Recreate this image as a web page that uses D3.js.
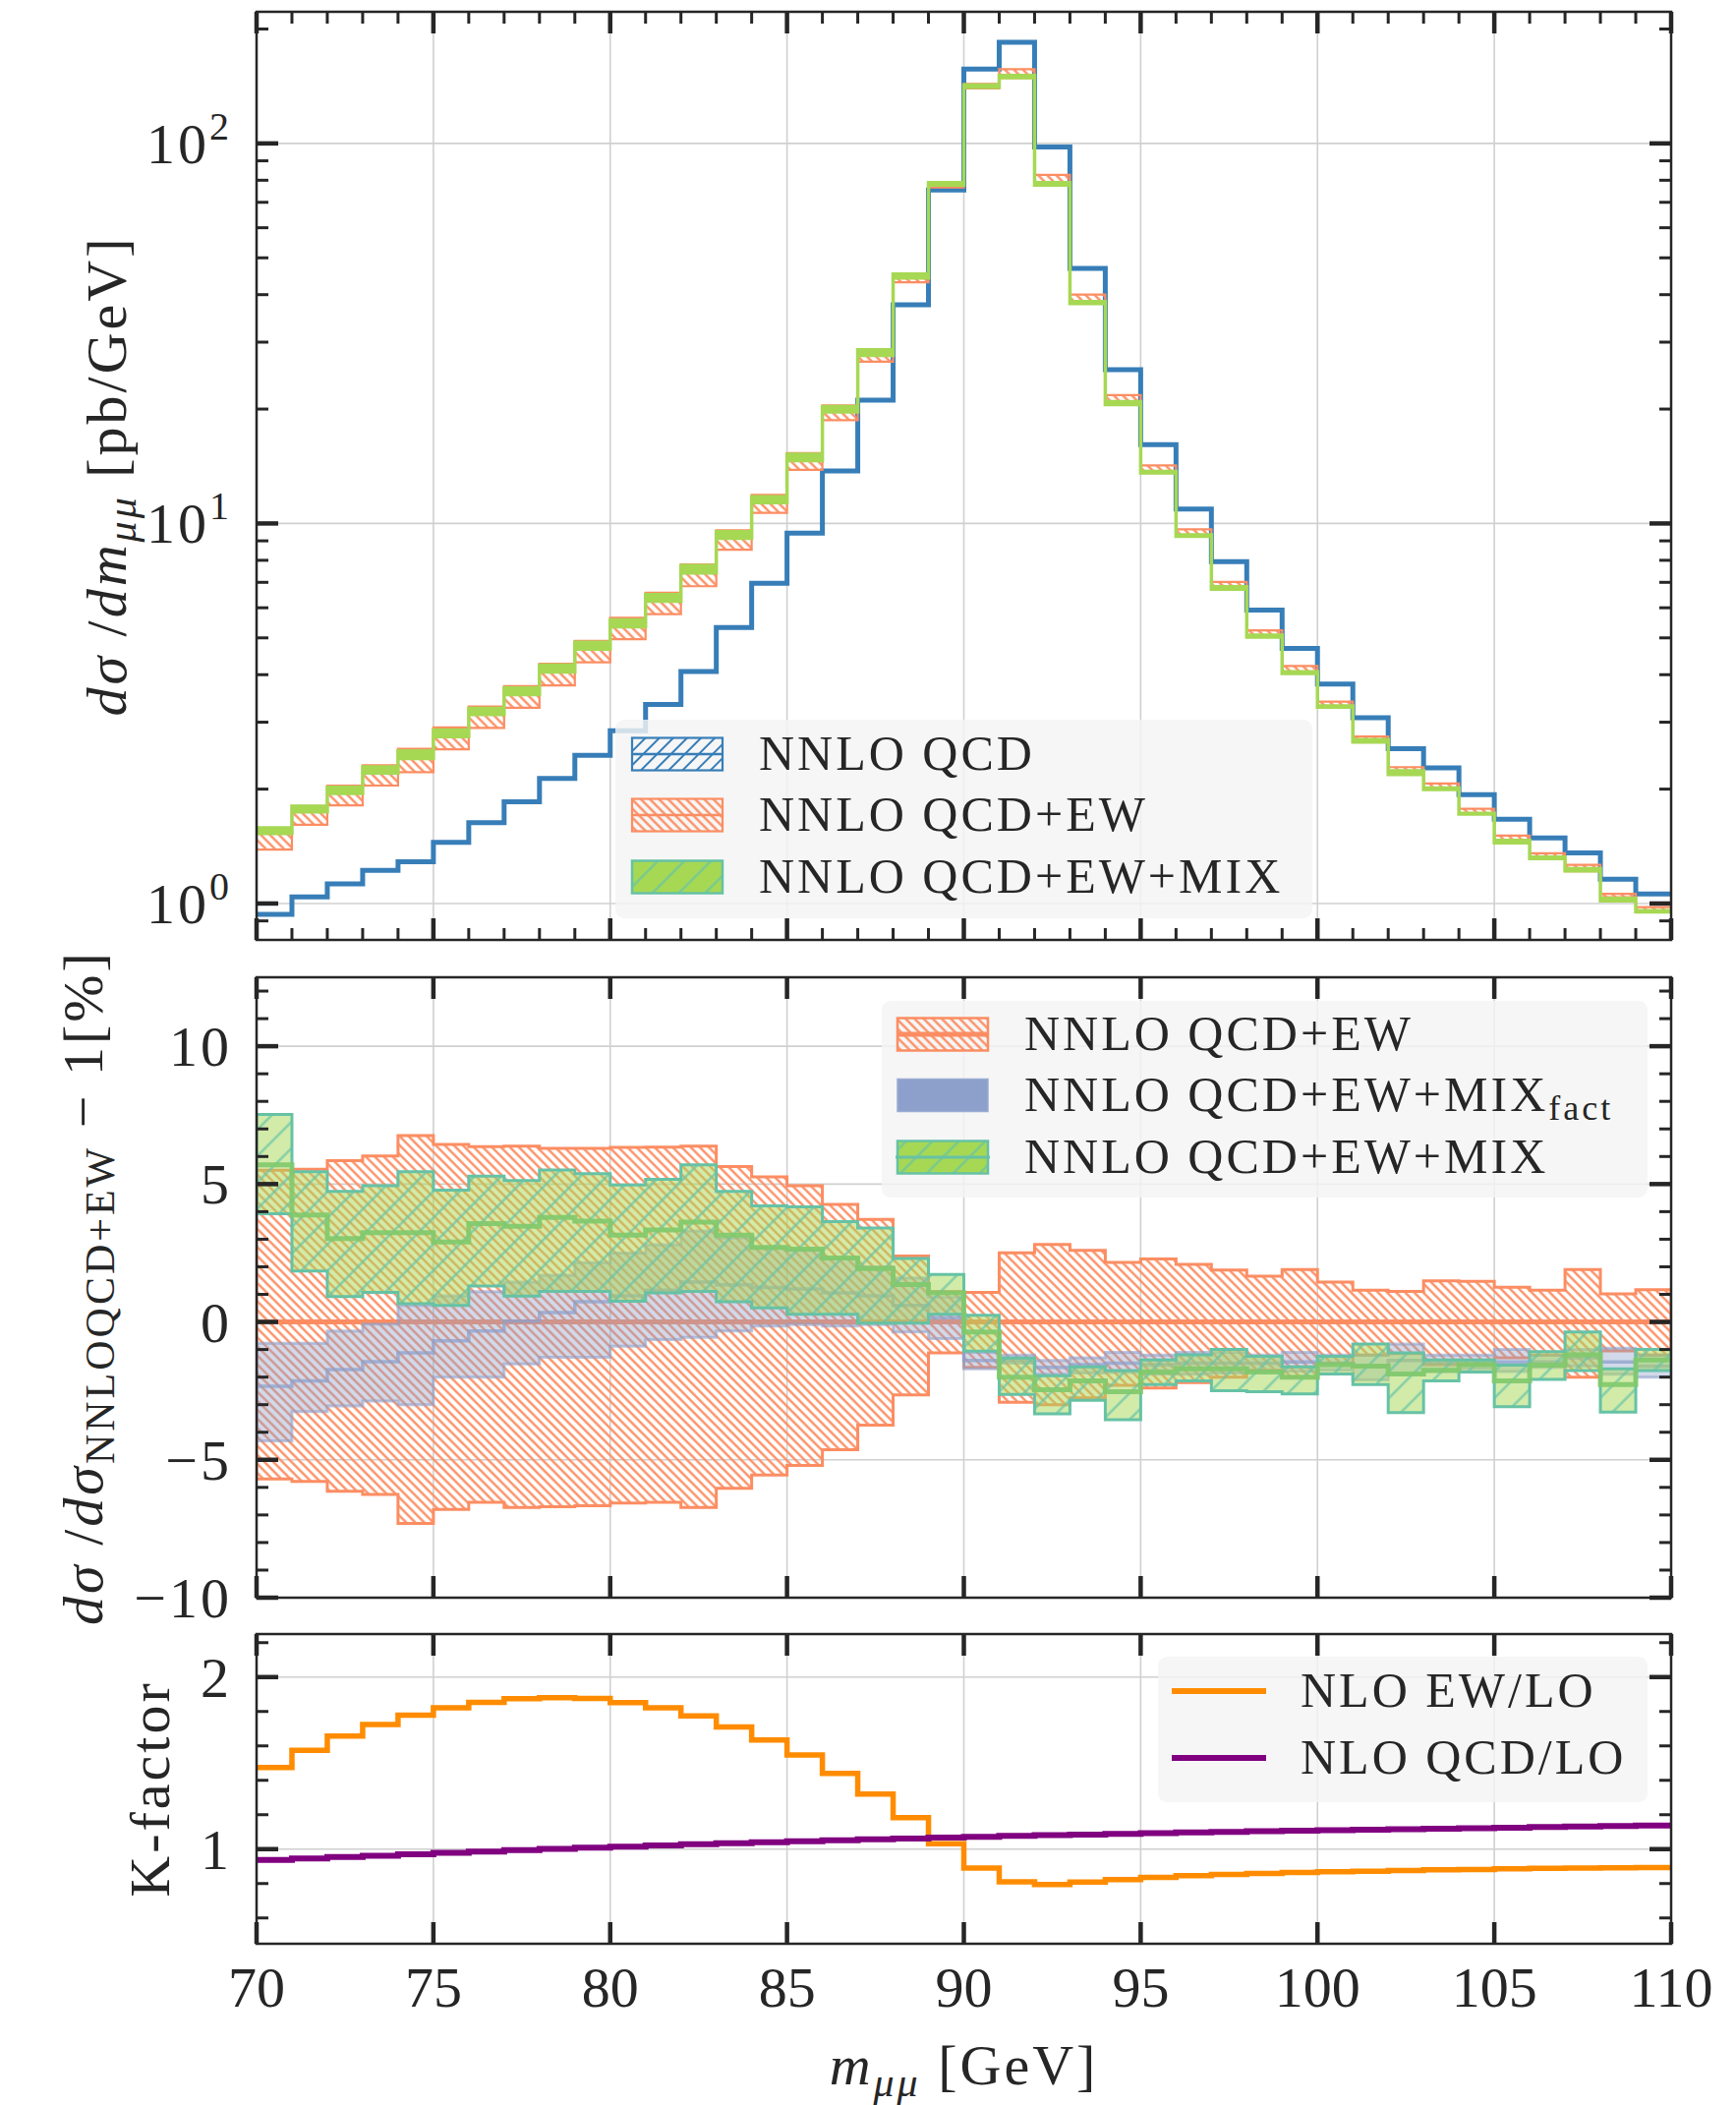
<!DOCTYPE html>
<html>
<head>
<meta charset="utf-8">
<script src="https://cdn.jsdelivr.net/npm/d3@7"></script>
<style>
  body { margin: 0; background: #fff; }
  svg text { font-family: "Liberation Serif", "DejaVu Serif", serif; fill: #262626; letter-spacing: 3px; }
</style>
</head>
<body>
<svg id="fig" width="1766" height="2141"></svg>
<script>
// bins: 1 GeV wide, 70 -> 110
let edges = d3.range(70, 111, 1);

// top panel, dsigma/dm [pb/GeV]
let qcd = [0.937, 1.041, 1.126, 1.222, 1.287, 1.449, 1.633, 1.851, 2.132, 2.454,
  2.848, 3.338, 4.08, 5.32, 6.96, 9.43, 13.75, 21.1, 37.6, 75.4,
  157, 184.5, 97.9, 46.9, 25.4, 16.13, 10.91, 7.93, 5.92, 4.69,
  3.78, 3.08, 2.553, 2.275, 1.934, 1.666, 1.488, 1.358, 1.158, 1.059];
let qcdEw = [1.47, 1.71, 1.93, 2.18, 2.39, 2.73, 3.10, 3.51, 4.02, 4.62,
  5.31, 6.18, 7.33, 9.08, 11.29, 14.6, 19.6, 27.7, 44.3, 77.5,
  142, 153, 80.4, 39.0, 21.3, 13.9, 9.45, 6.89, 5.15, 4.14,
  3.35, 2.72, 2.26, 2.04, 1.75, 1.49, 1.34, 1.24, 1.05, 0.967];

// middle panel, ratio to NNLO QCD+EW [%]
let ewUp = [5.5, 5.54, 5.85, 6.02, 6.76, 6.44, 6.36, 6.38, 6.3, 6.3,
  6.33, 6.34, 6.38, 5.64, 5.26, 4.94, 4.26, 3.72, 2.39, 1.1,
  1.07, 2.51, 2.81, 2.6, 2.16, 2.28, 2.09, 1.88, 1.66, 1.9,
  1.45, 1.15, 1.11, 1.49, 1.47, 1.26, 1.15, 1.9, 1.02, 1.17];
let ewDown = [-5.69, -5.78, -6.14, -6.26, -7.31, -6.8, -6.54, -6.73, -6.7, -6.67,
  -6.57, -6.54, -6.73, -6.03, -5.55, -5.2, -4.63, -3.74, -2.65, -1.12,
  -1.65, -2.91, -3.0, -2.75, -2.3, -2.4, -2.2, -2.0, -1.75, -2.0,
  -1.5, -1.2, -1.15, -1.55, -1.55, -1.3, -1.2, -2.0, -1.05, -1.2];

let factUp = [-0.77, -0.77, -0.33, -0.08, 0.6, 0.95, 1.1, 1.45, 1.7, 2.15,
  2.5, 2.8, 3.3, 3.05, 2.7, 2.6, 2.3, 2.0, 1.6, 0.9,
  -1.1, -1.2, -1.4, -1.3, -1.1, -1.2, -1.1, -1.1, -1.2, -1.1,
  -1.2, -1.2, -0.8, -1.2, -1.2, -1.0, -1.2, -1.0, -0.95, -1.2];
let factDown = [-4.31, -3.25, -3.05, -2.87, -3.0, -2.0, -2.0, -1.52, -1.28, -1.28,
  -0.88, -0.64, -0.56, -0.33, -0.15, -0.1, -0.15, -0.1, -0.36, -0.6,
  -1.7, -1.5, -1.9, -1.85, -1.83, -1.9, -1.9, -1.85, -1.8, -1.8,
  -1.75, -2.1, -1.9, -1.8, -1.7, -1.8, -1.65, -1.6, -1.9, -2.0];
let factMid = [-2.33, -2.14, -1.73, -1.44, -1.12, -0.68, -0.33, 0.03, 0.34, 0.73,
  0.95, 1.15, 1.45, 1.35, 1.25, 1.2, 1.05, 0.95, 0.6, 0.15,
  -1.4, -1.4, -1.65, -1.55, -1.5, -1.55, -1.5, -1.5, -1.5, -1.45,
  -1.5, -1.6, -1.4, -1.5, -1.45, -1.45, -1.45, -1.3, -1.45, -1.6];

let mixUp = [7.53, 5.45, 4.74, 4.94, 5.45, 4.78, 5.29, 5.13, 5.51, 5.38,
  4.97, 5.17, 5.7, 4.74, 4.21, 4.17, 3.64, 3.41, 2.3, 1.72,
  0.24, -1.31, -1.95, -1.63, -1.76, -1.38, -1.19, -1.0, -1.25, -1.63,
  -1.25, -0.8, -1.12, -1.38, -1.38, -1.57, -1.08, -0.36, -1.7, -1.0];
let mixDown = [3.92, 1.85, 0.92, 1.07, 0.66, 0.6, 1.3, 0.94, 1.11, 1.11,
  0.75, 1.05, 1.11, 0.73, 0.51, 0.28, 0.28, -0.04, -0.04, 0.28,
  -1.06, -2.63, -3.33, -2.84, -3.55, -2.27, -2.14, -2.49, -2.53, -2.61,
  -1.89, -2.27, -3.29, -2.14, -1.82, -3.07, -2.08, -1.76, -3.27, -1.76];
let mixMid = [5.7, 3.88, 3.02, 3.24, 3.24, 2.9, 3.57, 3.47, 3.79, 3.66,
  3.15, 3.34, 3.62, 3.15, 2.7, 2.64, 2.32, 1.94, 1.36, 1.05,
  -0.36, -2.0, -2.46, -2.14, -2.53, -1.82, -1.7, -1.7, -1.82, -2.0,
  -1.55, -1.6, -1.89, -1.75, -1.55, -2.14, -1.57, -1.19, -2.27, -1.38];

// bottom panel, K-factors
let kEw = [1.474, 1.575, 1.657, 1.724, 1.779, 1.821, 1.853, 1.874, 1.88, 1.876,
  1.851, 1.821, 1.775, 1.71, 1.634, 1.547, 1.44, 1.32, 1.183, 1.032,
  0.89, 0.81, 0.794, 0.808, 0.823, 0.836, 0.846, 0.853, 0.859, 0.865,
  0.869, 0.872, 0.876, 0.88, 0.882, 0.886, 0.888, 0.89, 0.891, 0.893];
let kQcd = [0.937, 0.946, 0.954, 0.962, 0.97, 0.978, 0.986, 0.994, 1.001, 1.008,
  1.015, 1.021, 1.028, 1.034, 1.04, 1.046, 1.052, 1.057, 1.062, 1.067,
  1.072, 1.077, 1.081, 1.085, 1.089, 1.093, 1.097, 1.1, 1.104, 1.107,
  1.11, 1.113, 1.116, 1.119, 1.122, 1.125, 1.128, 1.131, 1.134, 1.137];

let xTicks = [70, 75, 80, 85, 90, 95, 100, 105, 110];
let midTicks = [-10, -5, 0, 5, 10];
let botTicks = [1, 2];

let svg = d3.select("#fig");
let left = 261, right = 1700;
let ink = "#262626";

let x = d3.scaleLinear().domain([70, 110]).range([left, right]);
let yTop = d3.scaleLog().domain([0.802, 222]).range([956, 12]);
let yMid = d3.scaleLinear().domain([-10, 12.5]).range([1625, 994]);
let yBot = d3.scaleLinear().domain([0.45, 2.25]).range([1977, 1662]);

let defs = svg.append("defs");

function hatch(id, color, size, angle, width, opacity) {
  let p = defs.append("pattern")
    .attr("id", id)
    .attr("patternUnits", "userSpaceOnUse")
    .attr("width", size)
    .attr("height", size)
    .attr("patternTransform", `rotate(${angle})`);
  p.append("line")
    .attr("x1", size / 2).attr("y1", -1)
    .attr("x2", size / 2).attr("y2", size + 1)
    .attr("stroke", color)
    .attr("stroke-width", width)
    .attr("stroke-opacity", opacity);
}
hatch("hOrange", "#fc8d62", 6.5, -45, 2.3, 1);
hatch("hBlue", "#377eb8", 10, 45, 2, 1);
hatch("hTeal", "#66c2a5", 19, 45, 2.4, 0.75);

function clip(id, ys) {
  let [y0, y1] = ys.range();
  defs.append("clipPath").attr("id", id)
    .append("rect")
    .attr("x", left).attr("y", y1)
    .attr("width", right - left).attr("height", y0 - y1);
}
clip("cTop", yTop);
clip("cMid", yMid);
clip("cBot", yBot);

function stepPts(lo, hi) {
  let pts = lo.map((v, i) => ({ x: edges[i], lo: v, hi: hi ? hi[i] : v }));
  let n = lo.length - 1;
  pts.push({ x: edges[n + 1], lo: lo[n], hi: hi ? hi[n] : lo[n] });
  return pts;
}
function bandPath(ys, lo, hi) {
  return d3.area().curve(d3.curveStepAfter)
    .x(d => x(d.x)).y0(d => ys(d.lo)).y1(d => ys(d.hi))(stepPts(lo, hi));
}
function linePath(ys, vals) {
  return d3.line().curve(d3.curveStepAfter)
    .x(d => x(d.x)).y(d => ys(d.lo))(stepPts(vals));
}

function grid(ys, yVals) {
  let [y0, y1] = ys.range();
  let g = svg.append("g").attr("stroke", "#d0d0d0").attr("stroke-width", 1.6);
  g.selectAll("line.v").data(xTicks.slice(1, -1)).enter().append("line")
    .attr("x1", d => x(d)).attr("x2", d => x(d)).attr("y1", y1).attr("y2", y0);
  g.selectAll("line.h").data(yVals).enter().append("line")
    .attr("x1", left).attr("x2", right).attr("y1", d => ys(d)).attr("y2", d => ys(d));
}

function frame(ys, yMajor, yMinor, xMinor) {
  let [y0, y1] = ys.range();
  let g = svg.append("g").attr("stroke", ink);
  let tick = (vals, len, w) => {
    g.selectAll(null).data(vals).enter().append("line")
      .attr("x1", d => x(d)).attr("x2", d => x(d)).attr("y1", y1).attr("y2", y1 + len).attr("stroke-width", w);
    g.selectAll(null).data(vals).enter().append("line")
      .attr("x1", d => x(d)).attr("x2", d => x(d)).attr("y1", y0).attr("y2", y0 - len).attr("stroke-width", w);
  };
  let ytick = (vals, len, w) => {
    g.selectAll(null).data(vals).enter().append("line")
      .attr("x1", left).attr("x2", left + len).attr("y1", d => ys(d)).attr("y2", d => ys(d)).attr("stroke-width", w);
    g.selectAll(null).data(vals).enter().append("line")
      .attr("x1", right).attr("x2", right - len).attr("y1", d => ys(d)).attr("y2", d => ys(d)).attr("stroke-width", w);
  };
  tick(xTicks, 22, 4.5);
  if (xMinor) tick(xMinor, 12, 3);
  ytick(yMajor, 22, 4.5);
  ytick(yMinor, 12, 3);
  g.append("rect")
    .attr("x", left).attr("y", y1).attr("width", right - left).attr("height", y0 - y1)
    .attr("fill", "none").attr("stroke-width", 2.5);
}

// ---------- top panel ----------
let topMajor = [1, 10, 100];
let topMinor = [];
[0.1, 1, 10, 100].forEach(d => d3.range(2, 10).forEach(k => {
  let v = k * d;
  if (v > 0.802 && v < 222) topMinor.push(v);
}));
grid(yTop, topMajor);

let ewLoTop = qcdEw.map((c, i) => c * (1 + ewDown[i] / 100));
let ewHiTop = qcdEw.map((c, i) => c * (1 + ewUp[i] / 100));
let mixLoTop = qcdEw.map((c, i) => c * (1 + mixDown[i] / 100));
let mixHiTop = qcdEw.map((c, i) => c * (1 + mixUp[i] / 100));

let topG = svg.append("g").attr("clip-path", "url(#cTop)");
topG.append("path").attr("d", linePath(yTop, qcd))
  .attr("fill", "none").attr("stroke", "#377eb8").attr("stroke-width", 5);
topG.append("path").attr("d", bandPath(yTop, ewLoTop, ewHiTop))
  .attr("fill", "url(#hOrange)").attr("stroke", "#fc8d62").attr("stroke-width", 2.2);
topG.append("path").attr("d", bandPath(yTop, mixLoTop, mixHiTop))
  .attr("fill", "#a6d854").attr("stroke", "#a6d854").attr("stroke-width", 3.5);

frame(yTop, topMajor, topMinor, d3.range(70, 111).filter(v => v % 5 !== 0));

// ---------- middle panel ----------
grid(yMid, [-5, 0, 5, 10]);
let midG = svg.append("g").attr("clip-path", "url(#cMid)");
midG.append("path").attr("d", bandPath(yMid, ewDown, ewUp))
  .attr("fill", "url(#hOrange)").attr("stroke", "#fc8d62").attr("stroke-width", 3);
midG.append("path").attr("d", linePath(yMid, ewUp.map(() => 0)))
  .attr("fill", "none").attr("stroke", "#fc8d62").attr("stroke-width", 5);
midG.append("path").attr("d", bandPath(yMid, factDown, factUp))
  .attr("fill", "#8da0cb").attr("fill-opacity", 0.4)
  .attr("stroke", "#8da0cb").attr("stroke-opacity", 0.6).attr("stroke-width", 3);
midG.append("path").attr("d", linePath(yMid, factMid))
  .attr("fill", "none").attr("stroke", "#8da0cb").attr("stroke-opacity", 0.75).attr("stroke-width", 3.5);
midG.append("path").attr("d", bandPath(yMid, mixDown, mixUp))
  .attr("fill", "#a6d854").attr("fill-opacity", 0.5);
midG.append("path").attr("d", bandPath(yMid, mixDown, mixUp))
  .attr("fill", "url(#hTeal)").attr("stroke", "#66c2a5").attr("stroke-width", 3);
midG.append("path").attr("d", linePath(yMid, mixMid))
  .attr("fill", "none").attr("stroke", "#80c96b").attr("stroke-opacity", 0.9).attr("stroke-width", 5);

frame(yMid, midTicks, d3.range(-10, 13).filter(v => v % 5 !== 0), null);

// ---------- bottom panel ----------
grid(yBot, botTicks);
let botG = svg.append("g").attr("clip-path", "url(#cBot)");
botG.append("path").attr("d", linePath(yBot, kEw))
  .attr("fill", "none").attr("stroke", "#ff8c00").attr("stroke-width", 5.5);
botG.append("path").attr("d", linePath(yBot, kQcd))
  .attr("fill", "none").attr("stroke", "#800080").attr("stroke-width", 6);
frame(yBot, botTicks, [0.6, 0.8, 1.2, 1.4, 1.6, 1.8, 2.2], null);

// ---------- tick labels ----------
let fs = 58;
svg.append("g").selectAll("text").data(xTicks).enter().append("text")
  .text(d => d)
  .attr("x", d => x(d)).attr("y", 2041)
  .attr("text-anchor", "middle").style("font-size", fs + "px").style("letter-spacing", "0px");

let tl = svg.append("g").style("font-size", fs + "px").style("letter-spacing", "0px");
topMajor.forEach(v => {
  let t = tl.append("text").attr("x", 236).attr("y", yTop(v) + 20).attr("text-anchor", "end");
  t.append("tspan").text("10");
  t.append("tspan").text(Math.round(Math.log10(v))).attr("dy", -24).style("font-size", "40px");
});
midTicks.forEach(v => {
  tl.append("text").attr("x", 236).attr("y", yMid(v) + 20).attr("text-anchor", "end")
    .text(v < 0 ? "\u2212" + Math.abs(v) : v);
});
botTicks.forEach(v => {
  tl.append("text").attr("x", 236).attr("y", yBot(v) + 20).attr("text-anchor", "end").text(v);
});

// ---------- axis labels ----------
let xl = svg.append("text").attr("x", x(90)).attr("y", 2120)
  .attr("text-anchor", "middle").style("font-size", fs + "px");
xl.append("tspan").text("m").style("font-style", "italic");
xl.append("tspan").text("μμ").style("font-style", "italic").style("font-size", "42px").attr("dy", 12);
xl.append("tspan").text(" [GeV]").attr("dy", -12);

let yl1 = svg.append("text").attr("transform", `translate(128,${(12 + 956) / 2}) rotate(-90)`)
  .attr("text-anchor", "middle").style("font-size", fs + "px");
yl1.append("tspan").text("dσ").style("font-style", "italic");
yl1.append("tspan").text(" /");
yl1.append("tspan").text("dm").style("font-style", "italic");
yl1.append("tspan").text("μμ").style("font-style", "italic").style("font-size", "42px").attr("dy", 10);
yl1.append("tspan").text(" [pb/GeV]").attr("dy", -10);

let yl2 = svg.append("text").attr("transform", `translate(104,${(994 + 1625) / 2}) rotate(-90)`)
  .attr("text-anchor", "middle").style("font-size", fs + "px");
yl2.append("tspan").text("dσ").style("font-style", "italic");
yl2.append("tspan").text(" /");
yl2.append("tspan").text("dσ").style("font-style", "italic");
yl2.append("tspan").text("NNLOQCD+EW").style("font-size", "42px").attr("dy", 12);
yl2.append("tspan").text(" \u2212 1[%]").attr("dy", -12);

svg.append("text").attr("transform", `translate(172,${(1662 + 1977) / 2}) rotate(-90)`)
  .attr("text-anchor", "middle").style("font-size", fs + "px").text("K-factor");

// ---------- legends ----------
function legendBox(x0, y0, x1, y1) {
  svg.append("rect").attr("x", x0).attr("y", y0).attr("width", x1 - x0).attr("height", y1 - y0)
    .attr("rx", 9).attr("fill", "#f4f4f4").attr("fill-opacity", 0.82);
}
function legendText(tx, cy, label, sub) {
  let t = svg.append("text").attr("x", tx).attr("y", cy + 16).style("font-size", "50px").text(label);
  if (sub) t.append("tspan").text(sub).style("font-size", "36px").attr("dy", 9);
}

// top legend
legendBox(626, 732, 1335, 934);
let topRows = [767, 829, 892];
let px0 = 643, pw = 92, ph = 33;
svg.append("rect").attr("x", px0).attr("y", topRows[0] - ph / 2).attr("width", pw).attr("height", ph)
  .attr("fill", "url(#hBlue)").attr("stroke", "#377eb8").attr("stroke-width", 2.2);
svg.append("line").attr("x1", px0).attr("x2", px0 + pw).attr("y1", topRows[0]).attr("y2", topRows[0])
  .attr("stroke", "#377eb8").attr("stroke-width", 2.5);
svg.append("rect").attr("x", px0).attr("y", topRows[1] - ph / 2).attr("width", pw).attr("height", ph)
  .attr("fill", "url(#hOrange)").attr("stroke", "#fc8d62").attr("stroke-width", 2.2);
svg.append("line").attr("x1", px0).attr("x2", px0 + pw).attr("y1", topRows[1]).attr("y2", topRows[1])
  .attr("stroke", "#fc8d62").attr("stroke-width", 2.5);
svg.append("rect").attr("x", px0).attr("y", topRows[2] - ph / 2).attr("width", pw).attr("height", ph)
  .attr("fill", "#a6d854");
svg.append("rect").attr("x", px0).attr("y", topRows[2] - ph / 2).attr("width", pw).attr("height", ph)
  .attr("fill", "url(#hTeal)").attr("stroke", "#66c2a5").attr("stroke-width", 2.5);
legendText(772, topRows[0], "NNLO QCD");
legendText(772, topRows[1], "NNLO QCD+EW");
legendText(772, topRows[2], "NNLO QCD+EW+MIX");

// middle legend
legendBox(897, 1018, 1676, 1218);
let midRows = [1052, 1114, 1177];
let mx0 = 913;
svg.append("rect").attr("x", mx0).attr("y", midRows[0] - ph / 2).attr("width", pw).attr("height", ph)
  .attr("fill", "url(#hOrange)").attr("stroke", "#fc8d62").attr("stroke-width", 2.5);
svg.append("line").attr("x1", mx0 - 1).attr("x2", mx0 + pw + 1).attr("y1", midRows[0]).attr("y2", midRows[0])
  .attr("stroke", "#fc8d62").attr("stroke-width", 5);
svg.append("rect").attr("x", mx0).attr("y", midRows[1] - ph / 2).attr("width", pw).attr("height", ph)
  .attr("fill", "#8da0cb").attr("stroke", "#9aabd2").attr("stroke-width", 1.5);
svg.append("rect").attr("x", mx0).attr("y", midRows[2] - ph / 2).attr("width", pw).attr("height", ph)
  .attr("fill", "#a6d854");
svg.append("rect").attr("x", mx0).attr("y", midRows[2] - ph / 2).attr("width", pw).attr("height", ph)
  .attr("fill", "url(#hTeal)").attr("stroke", "#66c2a5").attr("stroke-width", 2.5);
svg.append("line").attr("x1", mx0 - 2).attr("x2", mx0 + pw + 2).attr("y1", midRows[2]).attr("y2", midRows[2])
  .attr("stroke", "#66c2a5").attr("stroke-width", 3);
legendText(1042, midRows[0], "NNLO QCD+EW");
legendText(1042, midRows[1], "NNLO QCD+EW+MIX", "fact");
legendText(1042, midRows[2], "NNLO QCD+EW+MIX");

// bottom legend
legendBox(1178, 1685, 1676, 1833);
let botRows = [1720, 1788];
svg.append("line").attr("x1", 1192).attr("x2", 1288).attr("y1", botRows[0]).attr("y2", botRows[0])
  .attr("stroke", "#ff8c00").attr("stroke-width", 6);
svg.append("line").attr("x1", 1192).attr("x2", 1288).attr("y1", botRows[1]).attr("y2", botRows[1])
  .attr("stroke", "#800080").attr("stroke-width", 6);
legendText(1323, botRows[0], "NLO EW/LO");
legendText(1323, botRows[1], "NLO QCD/LO");
</script>
</body>
</html>
